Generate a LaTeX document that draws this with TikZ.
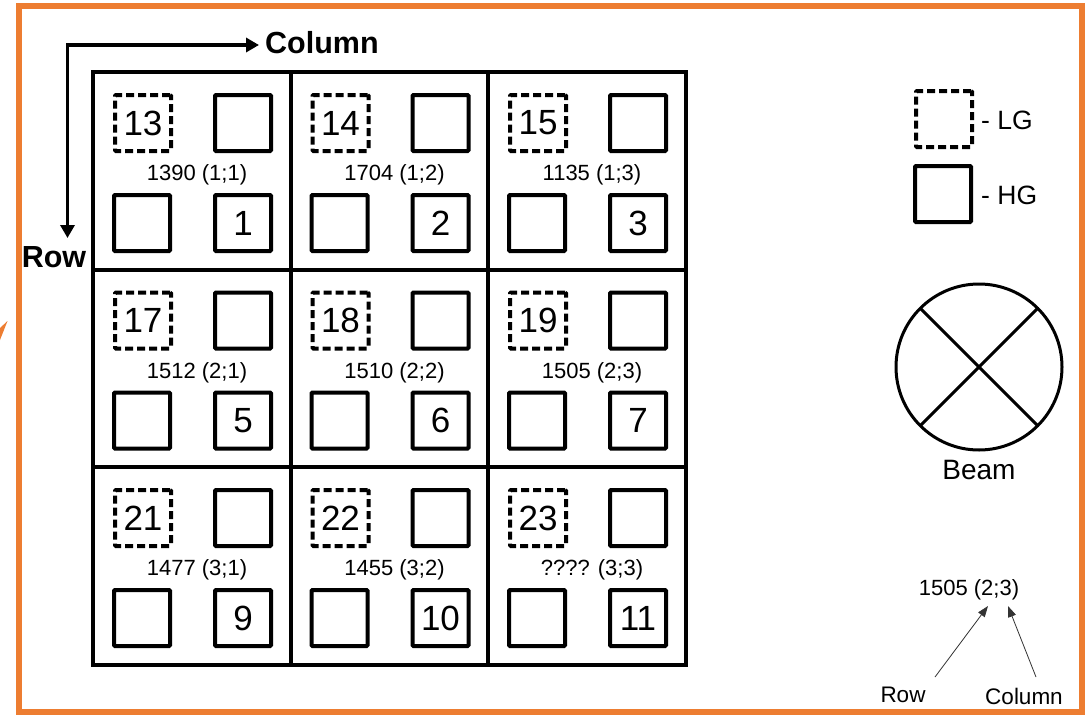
\documentclass[tikz,border=0pt]{standalone}
\usepackage{fontspec}
\setmainfont{Liberation Sans}
\usetikzlibrary{arrows.meta}
\definecolor{frameorange}{HTML}{ED7D31}
\begin{document}
\begin{tikzpicture}[x=1pt,y=-1pt,
  hg/.style={draw, line width=4pt, minimum size=56pt, inner sep=0pt, outer sep=0pt,
    rounded corners=1pt, font=\fontsize{35}{35}\selectfont},
  lg/.style={hg, line width=4pt, dash pattern=on 8pt off 4pt},
  cellbox/.style={draw, line width=4pt, minimum size=197.5pt, inner sep=0pt, outer sep=0pt},
  lbl/.style={inner sep=0pt, font=\fontsize{22}{22}\selectfont},
  big/.style={inner sep=0pt, font=\bfseries\fontsize{30.5}{30.5}\selectfont},
  leg/.style={inner sep=0pt, anchor=west, font=\fontsize{26.5}{26.5}\selectfont},
  small/.style={inner sep=0pt, font=\fontsize{22.5}{22.5}\selectfont},
  thinarr/.style={draw=black!80, line width=0.8pt, -{Triangle[length=11pt,width=8pt]}},
  bigarr/.style={line width=3.5pt, {Triangle[length=13pt,width=14pt]}-{Triangle[length=13pt,width=14pt]}}
]
\useasboundingbox (0,0) rectangle (1090,715);
\fill[white] (0,0) rectangle (1090,715);
% frame
\draw[frameorange, line width=6pt] (19,6) rectangle (1082,712);
\fill[frameorange] (0,328) -- (7.5,321) -- (0,340) -- cycle;

% grid cells
\foreach \r/\c/\lgn/\hgn/\lab in {
  1/1/13/1/1390 (1;1), 1/2/14/2/1704 (1;2), 1/3/15/3/1135 (1;3),
  2/1/17/5/1512 (2;1), 2/2/18/6/1510 (2;2), 2/3/19/7/1505 (2;3),
  3/1/21/9/1477 (3;1), 3/2/22/10/1455 (3;2), 3/3/23/11/???? (3;3)}{
  \pgfmathsetmacro\cx{93+(\c-1)*197.5}
  \pgfmathsetmacro\cy{72+(\r-1)*197.5}
  \node[cellbox] (cell-\r-\c) at (\cx+98.75,\cy+98.75) {};
  \node[lg] (lg-\r-\c) at (\cx+50,\cy+51) {\lgn};
  \node[hg] (hgt-\r-\c) at (\cx+150,\cy+51) {};
  \node[hg] (hgb-\r-\c) at (\cx+49,\cy+151) {};
  \node[hg] (hgn-\r-\c) at (\cx+150,\cy+151) {\hgn};
  \node[lbl] (lab-\r-\c) at (\cx+104,\cy+103) {\lab};
}

% axes
\coordinate (rowtip) at (67.5,238);
\coordinate (coltip) at (259,45);
\draw[bigarr] (rowtip) |- (coltip);
\node[big, anchor=west] (colname) at (265,43) {Column};
\node[big] (rowname) at (54,257) {Row};

% legend
\node[lg] (leglg) at (944,119) {};
\node[leg] (leglgt) at (981,120) {- LG};
\node[hg] (leghg) at (943,194) {};
\node[leg] (leghgt) at (981,195) {- HG};

% beam
\node[circle, draw, line width=3pt, minimum size=166pt, inner sep=0pt, outer sep=0pt] (beam) at (979,367) {};
\draw[line width=3pt] (beam.north west) -- (beam.south east);
\draw[line width=3pt] (beam.north east) -- (beam.south west);
\node[inner sep=0pt, font=\fontsize{28}{28}\selectfont] (beamt) at (979,470) {Beam};

% example
\node[lbl] (ex) at (969,590) {1505 (2;3)};
\node[small] (exrow) at (903,695) {Row};
\node[small] (excol) at (1024,696) {Column};
\coordinate (rs) at (935,677);
\coordinate (re) at (988,606);
\coordinate (cs) at (1036,677);
\coordinate (ce) at (1008,606);
\draw[thinarr] (rs) -- (re);
\draw[thinarr] (cs) -- (ce);
\end{tikzpicture}
\end{document}
